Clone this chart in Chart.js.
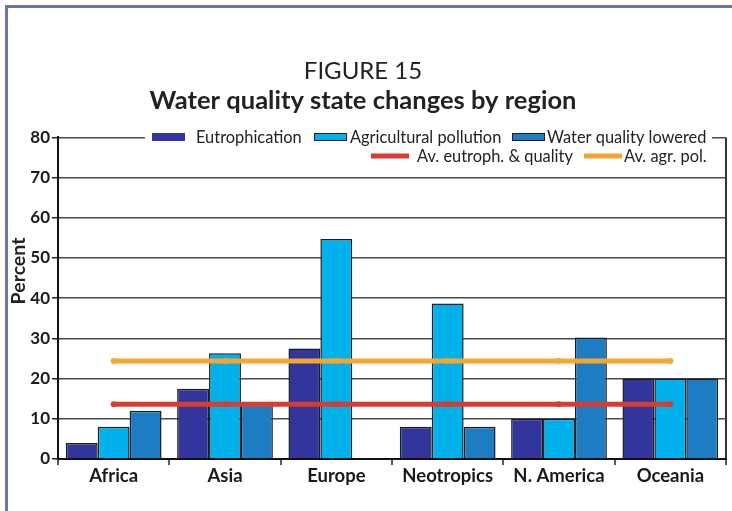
<!DOCTYPE html>
<html>
<head>
<meta charset="utf-8">
<script src="https://cdn.jsdelivr.net/npm/chart.js@4"></script>
<style>
  html, body { margin: 0; padding: 0; background: #fff; }
  #wrap { position: relative; width: 732px; height: 511px; overflow: hidden; }
  #frame { position: absolute; left: 5px; top: 5px; width: 740px; height: 520px;
           border-left: 3px solid #6776ab; border-top: 3px solid #6776ab; }
  #myChart { position: absolute; left: 0; top: 0; }
</style>
</head>
<body>
<div id="wrap">
  <div id="frame"></div>
  <canvas id="myChart" width="732" height="511"></canvas>
</div>
<script>
const regions = ['Africa', 'Asia', 'Europe', 'Neotropics', 'N. America', 'Oceania'];
const eutrophication = [4, 17.5, 27.5, 8, 10, 20];
const agriPollution = [8, 26.3, 54.7, 38.7, 10, 20];
const qualityLowered = [12, 13.5, 0, 8, 30.2, 20];
const avgEutroQuality = [13.6, 13.6, 13.6, 13.6, 13.6, 13.6];
const avgAgriPol = [24.4, 24.4, 24.4, 24.4, 24.4, 24.4];
const yTicks = [0, 10, 20, 30, 40, 50, 60, 70, 80];

const FONT = 'Lato, "Open Sans", sans-serif';
const barEdge = '#1b1b24';

// legend sits inside the plot, on top of the 80 gridline, in two rows
const legendSlots = [
  { x: 152, y: 137, w: 33, text: 196 },
  { x: 314, y: 137, w: 33, text: 350 },
  { x: 512, y: 137, w: 33, text: 547 },
  { x: 371, y: 156, w: 38, text: 417 },
  { x: 584, y: 156, w: 38, text: 624 },
];

const insideLegend = {
  id: 'insideLegend',
  afterDraw(chart) {
    const ctx = chart.ctx;
    ctx.save();
    ctx.fillStyle = '#fff';
    ctx.fillRect(145, 128, 567, 20);
    ctx.font = '16.4px ' + FONT;
    ctx.textBaseline = 'middle';
    chart.data.datasets.forEach((ds, i) => {
      const s = legendSlots[i];
      if (ds.type === 'line') {
        ctx.fillStyle = ds.borderColor;
        ctx.fillRect(s.x, s.y - 2.5, s.w, 5);
      } else {
        ctx.fillStyle = ds.backgroundColor;
        ctx.fillRect(s.x, s.y - 4, s.w, 8);
        if (i > 0) {
          ctx.strokeStyle = barEdge;
          ctx.lineWidth = 1;
          ctx.strokeRect(s.x + 0.5, s.y - 3.5, s.w - 1, 7);
        }
      }
      ctx.fillStyle = '#222';
      ctx.fillText(ds.label, s.text, s.y + 1);
    });
    // y axis title, placed a bit above the middle like the original
    ctx.translate(19, 271);
    ctx.rotate(-Math.PI / 2);
    ctx.textAlign = 'center';
    ctx.font = 'bold 19.5px ' + FONT;
    ctx.fillText('Percent', 0, 0);
    ctx.restore();
  }
};

const barSet = (label, data, color) => ({
  label: label,
  data: data,
  backgroundColor: color,
  borderColor: barEdge,
  borderWidth: 1.5,
  borderSkipped: 'start',
  order: 1,
});

const lineSet = (label, data, color) => ({
  type: 'line',
  label: label,
  data: data,
  borderColor: color,
  backgroundColor: color,
  borderWidth: 5,
  pointRadius: 3,
  pointBorderWidth: 0,
  order: 0,
});

const ctx = document.getElementById('myChart').getContext('2d');
const myChart = new Chart(ctx, {
  type: 'bar',
  data: {
    labels: regions,
    datasets: [
      barSet('Eutrophication', eutrophication, '#32359b'),
      barSet('Agricultural pollution', agriPollution, '#00b1ec'),
      barSet('Water quality lowered', qualityLowered, '#1e7dc2'),
      lineSet('Av. eutroph. & quality', avgEutroQuality, '#d63c30'),
      lineSet('Av. agr. pol.', avgAgriPol, '#f4a632'),
    ],
  },
  options: {
    responsive: false,
    animation: false,
    layout: { padding: { left: 0, right: 6, top: 0, bottom: 0 } },
    datasets: {
      bar: { barPercentage: 1, categoryPercentage: 0.86 },
    },
    plugins: {
      legend: { display: false },
      tooltip: { enabled: false },
      title: {
        display: true,
        text: 'FIGURE 15',
        color: '#222',
        font: { family: FONT, size: 24, weight: 'normal', lineHeight: 1.2 },
        padding: { top: 57, bottom: 0 },
      },
      subtitle: {
        display: true,
        text: 'Water quality state changes by region',
        color: '#222',
        font: { family: FONT, size: 25.5, weight: 'bold', lineHeight: 1.2 },
        padding: { top: 0, bottom: 21 },
      },
    },
    scales: {
      x: {
        grid: {
          offset: true,
          drawOnChartArea: true,
          color: (c) => (c.index === undefined ? '#333' : 'rgba(0,0,0,0)'),
          lineWidth: 2,
          tickLength: 6,
          tickColor: '#222',
          tickWidth: 1.5,
        },
        border: { color: '#111', width: 2 },
        ticks: {
          color: '#1a1a1a',
          padding: 0,
          font: { family: FONT, size: 18.5, weight: 'bold' },
        },
        afterFit: (scale) => { scale.height = 52; },
      },
      y: {
        min: 0,
        max: 80,
        afterBuildTicks: (scale) => { scale.ticks = yTicks.map((v) => ({ value: v })); },
        grid: {
          color: '#4a4a4a',
          lineWidth: 1.5,
          tickLength: 6,
          tickColor: '#222',
        },
        border: { color: '#111', width: 2 },
        ticks: {
          color: '#1a1a1a',
          padding: 2,
          font: { family: FONT, size: 17, weight: 'bold' },
        },
        afterFit: (scale) => { scale.width = 58; },
      },
    },
  },
  plugins: [insideLegend],
});
</script>
</body>
</html>
